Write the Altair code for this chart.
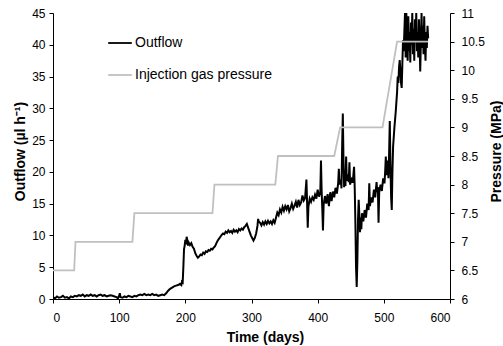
import altair as alt
import pandas as pd

# Outflow (µl/h)
out_days = [0, 3, 6, 9, 12, 15, 18, 21, 24, 27, 30, 33, 36, 39, 42, 45, 48, 51, 54, 57,
            60, 63, 66, 69, 72, 75, 78, 81, 84, 87, 90, 93, 96, 98, 100, 101, 102, 105, 108, 111,
            114, 117, 120, 123, 126, 129, 132, 135, 138, 141, 144, 147, 150, 153, 156, 159, 162, 165, 168, 171,
            174, 177, 180, 183, 186, 189, 192, 194, 195, 196, 197, 198, 199, 200, 201, 202, 203, 204, 205, 207,
            209, 211, 213, 215, 217, 219, 221, 223, 225, 227, 229, 231, 233, 235, 237, 239, 241, 243, 245, 247,
            249, 251, 253, 255, 257, 259, 261, 263, 265, 267, 269, 271, 273, 275, 277, 279, 281, 283, 285, 287,
            289, 291, 293, 295, 297, 299, 301, 303, 305, 307, 309, 310, 311, 313, 315, 317, 319, 321, 323, 325,
            327, 329, 331, 333, 335, 337, 339, 341, 343, 345, 347, 349, 351, 353, 355, 357, 359, 361, 363, 365,
            367, 369, 371, 373, 375, 377, 379, 381, 383, 384, 385, 386, 388, 390, 392, 394, 396, 398, 400, 402,
            404, 405, 406, 407, 408, 409, 411, 413, 415, 417, 419, 421, 423, 425, 427, 429, 431, 432, 433, 435,
            436, 437, 438, 439, 440, 441, 442, 443, 444, 445, 447, 448, 449, 451, 453, 455, 456, 457, 458, 459,
            460, 461, 462, 463, 464, 465, 466, 467, 469, 471, 473, 475, 477, 478, 479, 481, 483, 485, 487, 489,
            490, 491, 492, 493, 495, 497, 499, 501, 502, 503, 504, 506, 507, 508, 509, 510, 511, 512, 513, 514,
            516, 518, 520, 521, 522, 523, 524, 525, 526, 527, 528, 529, 530, 531, 532, 533, 534, 535, 536, 537,
            538, 539, 540, 541, 542, 543, 544, 545, 546, 547, 548, 549, 550, 551, 552, 553, 554, 555, 556, 557,
            558, 559, 560, 561, 562, 563, 564, 565, 566, 567]
out_vals = [0.3, 0.1, 0.4, 0.2, 0.3, 0.5, 0.2, 0.3, 0.1, 0.4, 0.3, 0.5, 0.4, 0.6, 0.5, 0.7, 0.4, 0.6, 0.5, 0.7,
            0.5, 0.6, 0.4, 0.6, 0.7, 0.5, 0.6, 0.4, 0.5, 0.6, 0.5, 0.4, 0.3, 0.1, 0.5, 0.9, 0.3, 0.2, 0.4, 0.3,
            0.5, 0.4, 0.3, 0.5, 0.4, 0.6, 0.7, 0.6, 0.8, 0.6, 0.7, 0.6, 0.8, 0.6, 0.7, 0.5, 0.6, 0.7, 0.6, 0.9,
            1.3, 1.6, 1.8, 2.0, 2.1, 2.2, 2.4, 2.2, 2.7, 2.6, 5.0, 7.8, 8.4, 9.3, 8.6, 9.8, 9.2, 8.4, 8.9, 8.5,
            8.8, 8.2, 7.9, 7.2, 6.8, 6.5, 6.7, 7.0, 6.9, 7.3, 7.1, 7.5, 7.4, 7.7, 7.6, 7.9, 7.8, 8.1, 8.3, 8.8,
            9.2, 9.5, 9.8, 10.1, 10.3, 10.2, 10.6, 10.4, 10.8, 10.5, 10.7, 10.4, 10.9, 10.6, 10.8, 10.5, 11.0, 10.8, 11.1, 10.9,
            11.3, 11.5, 11.8, 11.2, 10.6, 10.0, 9.6, 9.2, 9.6, 10.3, 11.5, 12.6, 12.2, 12.0, 11.6, 12.1, 11.7, 12.2, 11.8, 12.3,
            11.9, 12.2, 11.8, 12.4, 12.0, 12.8, 13.6, 13.2, 14.1, 13.6, 14.5, 13.9, 14.6, 14.1, 14.8, 13.8, 14.3, 15.0, 14.2, 14.7,
            15.3, 14.4, 15.6, 14.8, 15.2, 16.3, 15.5, 15.9, 18.8, 15.2, 11.2, 14.5, 15.8, 15.3, 16.0, 15.6, 16.4, 15.8, 17.2, 16.1,
            16.8, 21.8, 17.0, 14.2, 10.8, 14.8, 16.2, 15.0, 16.5, 14.6, 16.8, 15.4, 16.9, 16.0, 17.5, 16.6, 18.2, 20.5, 18.0, 18.8,
            17.4, 24.0, 29.2, 22.0, 17.6, 19.0, 17.8, 22.4, 18.6, 19.6, 18.4, 21.5, 18.0, 18.8, 18.3, 20.8, 17.5, 12.0, 5.0, 1.9,
            6.0, 12.5, 15.6, 13.2, 10.5, 12.8, 11.0, 13.5, 12.2, 14.0, 12.8, 15.0, 14.0, 18.2, 14.6, 16.0, 15.2, 17.2, 16.0, 18.4,
            16.8, 17.6, 12.0, 16.8, 18.0, 17.0, 19.0, 18.2, 20.0, 22.4, 19.5, 21.8, 19.0, 23.0, 28.0, 21.0, 16.0, 14.0, 20.0, 24.0,
            27.0, 29.5, 32.5, 35.0, 34.0, 36.5, 37.6, 36.0, 34.0, 33.2, 37.0, 40.7, 39.0, 42.0, 45.0, 38.0, 45.0, 41.0, 37.5, 44.5,
            39.0, 42.0, 37.2, 43.5, 40.0, 45.0, 38.5, 42.5, 37.5, 44.0, 40.5, 45.0, 39.0, 42.0, 38.0, 44.0, 41.0, 35.8, 40.5, 45.0,
            39.5, 43.0, 38.5, 44.5, 40.0, 37.5, 42.0, 39.5, 43.0, 41.0]

# Injection gas pressure (MPa)
p_days = [0, 32, 34, 120, 123, 241, 244, 336, 340, 425, 434, 498, 520, 567]
p_vals = [6.5, 6.5, 7.0, 7.0, 7.5, 7.5, 8.0, 8.0, 8.5, 8.5, 9.0, 9.0, 10.5, 10.5]

series_names = ["Outflow", "Injection gas pressure"]
series_colors = ["#000000", "#c0c0c0"]

x_ticks = [0, 100, 200, 300, 400, 500, 600]
left_ticks = [0, 5, 10, 15, 20, 25, 30, 35, 40, 45]
right_ticks = [6, 6.5, 7, 7.5, 8, 8.5, 9, 9.5, 10, 10.5, 11]

df_out = pd.DataFrame({"day": out_days, "value": out_vals, "series": series_names[0]})
df_p = pd.DataFrame({"day": p_days, "value": p_vals, "series": series_names[1]})

FONT = "Liberation Sans"
axis_common = dict(grid=False, domainColor="black", tickColor="black", labelColor="black",
                   titleColor="black", labelFont=FONT, titleFont=FONT, labelFontSize=12,
                   titleFontSize=14, titleFontWeight="bold", tickSize=4, domainWidth=1, tickWidth=1)

color = alt.Color(
    "series:N",
    scale=alt.Scale(domain=series_names, range=series_colors),
    legend=alt.Legend(title=None, orient="none", legendX=54, legendY=17, direction="vertical",
                      symbolType="stroke", symbolSize=560, symbolStrokeWidth=1.8,
                      labelFont=FONT, labelFontSize=14, labelColor="black", labelOffset=2,
                      rowPadding=12),
)

x = alt.X("day:Q", scale=alt.Scale(domain=[0, 600], nice=False),
          axis=alt.Axis(title="Time (days)", values=x_ticks, labelPadding=9, titlePadding=7,
                        titleX=212, **axis_common))

outflow = alt.Chart(df_out).mark_line(strokeWidth=2.0, clip=True).encode(
    x=x,
    y=alt.Y("value:Q", scale=alt.Scale(domain=[0, 45], nice=False, zero=False),
            axis=alt.Axis(title="Outflow (µl h⁻¹)", values=left_ticks, orient="left",
                          labelPadding=4, titlePadding=4, titleY=138, **axis_common)),
    color=color,
)

pressure = alt.Chart(df_p).mark_line(strokeWidth=1.8).encode(
    x=x,
    y=alt.Y("value:Q", scale=alt.Scale(domain=[6, 11], nice=False, zero=False),
            axis=alt.Axis(title="Pressure (MPa)", values=right_ticks, orient="right", format="~g",
                          labelPadding=7, titlePadding=19, titleAngle=270, titleY=138,
                          **axis_common)),
    color=color,
)

chart = alt.layer(outflow, pressure).resolve_scale(y="independent").properties(
    width=397, height=286,
    autosize=alt.AutoSizeParams(type="none"),
    padding={"left": 53, "top": 13, "right": 53, "bottom": 47},
    background="white",
).configure_view(stroke=None)

chart.save("out.html", embed_options={"renderer": "svg", "actions": False})
